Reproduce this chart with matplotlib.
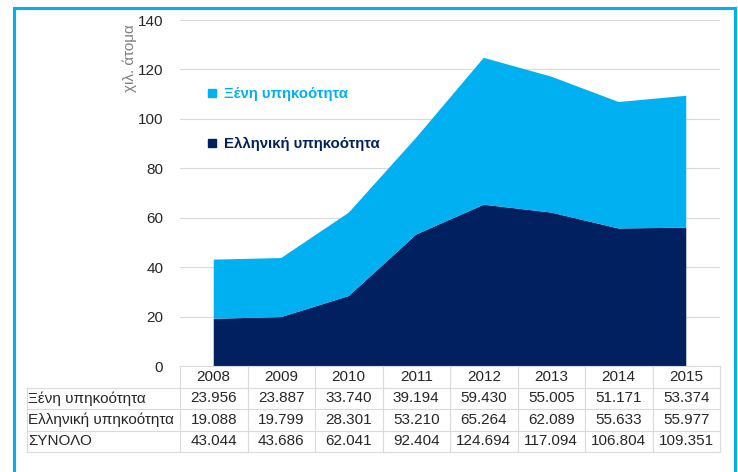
import matplotlib.pyplot as plt
from matplotlib.lines import Line2D
from matplotlib.patches import Rectangle

plt.rcParams['font.family'] = ['Liberation Sans', 'DejaVu Sans']

years = ['2008', '2009', '2010', '2011', '2012', '2013', '2014', '2015']
foreign = [23.956, 23.887, 33.740, 39.194, 59.430, 55.005, 51.171, 53.374]
greek = [19.088, 19.799, 28.301, 53.210, 65.264, 62.089, 55.633, 55.977]
total = [43.044, 43.686, 62.041, 92.404, 124.694, 117.094, 106.804, 109.351]
row_labels = ['Ξένη υπηκοότητα', 'Ελληνική υπηκοότητα', 'ΣΥΝΟΛΟ']

c_foreign = '#00B0F0'
c_greek = '#002060'
grid_c = '#D9D9D9'
txt_c = '#262626'

W, H = 738, 472
fig = plt.figure(figsize=(W / 100, H / 100), dpi=100)

# axes placement (pixels -> figure fraction)
ax_l, ax_r, ax_t, ax_b = 180, 720, 20, 366
ax = fig.add_axes([ax_l / W, 1 - ax_b / H, (ax_r - ax_l) / W, (ax_b - ax_t) / H])

x = list(range(len(years)))
ax.stackplot(x, greek, foreign, colors=[c_greek, c_foreign], linewidth=0)
ax.set_xlim(-0.5, len(years) - 0.5)
ax.set_ylim(0, 140)
ax.set_yticks(range(0, 141, 20))
ax.set_xticks([])
ax.tick_params(axis='y', length=0, labelsize=11, labelcolor=txt_c, pad=12)
ax.grid(axis='y', color=grid_c, linewidth=0.8)
ax.set_axisbelow(True)
for s in ax.spines.values():
    s.set_visible(False)

fig.text(130 / W, 1 - 58 / H, 'χιλ. άτομα', rotation=90, ha='center', va='center',
         fontsize=11, color='#7F7F7F')

# legend inside the plot
handles = [Line2D([], [], marker='s', linestyle='', markersize=6, color=c_foreign),
           Line2D([], [], marker='s', linestyle='', markersize=6, color=c_greek)]
leg = ax.legend(handles, ['Ξένη υπηκοότητα', 'Ελληνική υπηκοότητα'],
                loc='upper left', bbox_to_anchor=(0.025, 0.845), frameon=False,
                prop={'weight': 'bold', 'size': 10.8}, labelspacing=2.4,
                handlelength=0.6, handletextpad=0.5)
for t, c in zip(leg.get_texts(), [c_foreign, c_greek]):
    t.set_color(c)

# data table below the axes
n = len(years)
col_w = (ax_r - ax_l) / n
lab_l = 27
row_h = 21.5
tops = [ax_b + i * row_h for i in range(5)]

def fx(px):
    return px / W

def fy(py):
    return 1 - py / H

lw = 0.8
fs = 11
# header row
for i, yr in enumerate(years):
    cx = ax_l + (i + 0.5) * col_w
    fig.text(fx(cx), fy(tops[0] + row_h / 2), yr, ha='center', va='center',
             fontsize=fs, color=txt_c)
# body rows
rows = [foreign, greek, total]
for r, (lab, vals) in enumerate(zip(row_labels, rows)):
    yc = tops[r + 1] + row_h / 2
    fig.text(fx(lab_l + 1), fy(yc), lab, ha='left', va='center', fontsize=fs, color=txt_c)
    for i, v in enumerate(vals):
        cx = ax_l + (i + 0.5) * col_w
        fig.text(fx(cx), fy(yc), f'{v:.3f}', ha='center', va='center',
                 fontsize=fs, color=txt_c)
# grid lines of the table
fig.add_artist(Line2D([fx(ax_l), fx(ax_r)], [fy(tops[0])] * 2, color=grid_c, lw=lw))
for k in range(1, 5):
    fig.add_artist(Line2D([fx(lab_l), fx(ax_r)], [fy(tops[k])] * 2, color=grid_c, lw=lw))
for i in range(n + 1):
    xx = fx(ax_l + i * col_w)
    fig.add_artist(Line2D([xx, xx], [fy(tops[0]), fy(tops[4])], color=grid_c, lw=lw))
fig.add_artist(Line2D([fx(lab_l)] * 2, [fy(tops[1]), fy(tops[4])], color=grid_c, lw=lw))

# outer blue frame
fig.add_artist(Rectangle((fx(14), fy(H + 10)), fx(735 - 14), fy(8) - fy(H + 10),
                         fill=False, edgecolor=c_foreign, linewidth=2.2))

fig.savefig('out.png', dpi=100)
